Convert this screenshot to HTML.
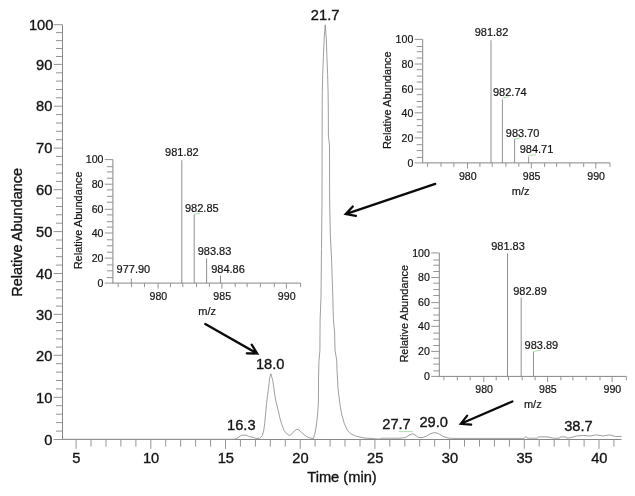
<!DOCTYPE html>
<html lang="en"><head><meta charset="utf-8"><title>Chromatogram</title>
<style>
html,body{margin:0;padding:0;background:#fff;}
body{width:635px;height:496px;overflow:hidden;}
svg{display:block;font-family:"Liberation Sans", sans-serif;fill:#141414;}
text{stroke:#141414;stroke-width:0.35px;}
text.s{stroke-width:0.2px;}
</style></head><body>
<svg width="635" height="496" viewBox="0 0 635 496">
<rect width="635" height="496" fill="#fff"/>
<line x1="62.5" y1="24.7" x2="62.5" y2="439.5" stroke="#868686" stroke-width="1"/>
<line x1="62.5" y1="439.5" x2="621.5" y2="439.5" stroke="#868686" stroke-width="1"/>
<line x1="53.6" y1="439.5" x2="62.5" y2="439.5" stroke="#949494" stroke-width="1"/>
<text x="52.4" y="444.7" font-size="14.67" text-anchor="end" >0</text>
<line x1="56.0" y1="431.1" x2="62.5" y2="431.1" stroke="#949494" stroke-width="1"/>
<line x1="56.0" y1="422.6" x2="62.5" y2="422.6" stroke="#949494" stroke-width="1"/>
<line x1="56.0" y1="414.2" x2="62.5" y2="414.2" stroke="#949494" stroke-width="1"/>
<line x1="56.0" y1="405.7" x2="62.5" y2="405.7" stroke="#949494" stroke-width="1"/>
<line x1="53.6" y1="397.3" x2="62.5" y2="397.3" stroke="#949494" stroke-width="1"/>
<text x="52.4" y="402.5" font-size="14.67" text-anchor="end" >10</text>
<line x1="56.0" y1="388.9" x2="62.5" y2="388.9" stroke="#949494" stroke-width="1"/>
<line x1="56.0" y1="380.5" x2="62.5" y2="380.5" stroke="#949494" stroke-width="1"/>
<line x1="56.0" y1="372.1" x2="62.5" y2="372.1" stroke="#949494" stroke-width="1"/>
<line x1="56.0" y1="363.7" x2="62.5" y2="363.7" stroke="#949494" stroke-width="1"/>
<line x1="53.6" y1="355.3" x2="62.5" y2="355.3" stroke="#949494" stroke-width="1"/>
<text x="52.4" y="360.5" font-size="14.67" text-anchor="end" >20</text>
<line x1="56.0" y1="347.1" x2="62.5" y2="347.1" stroke="#949494" stroke-width="1"/>
<line x1="56.0" y1="338.9" x2="62.5" y2="338.9" stroke="#949494" stroke-width="1"/>
<line x1="56.0" y1="330.7" x2="62.5" y2="330.7" stroke="#949494" stroke-width="1"/>
<line x1="56.0" y1="322.5" x2="62.5" y2="322.5" stroke="#949494" stroke-width="1"/>
<line x1="53.6" y1="314.3" x2="62.5" y2="314.3" stroke="#949494" stroke-width="1"/>
<text x="52.4" y="319.5" font-size="14.67" text-anchor="end" >30</text>
<line x1="56.0" y1="306.1" x2="62.5" y2="306.1" stroke="#949494" stroke-width="1"/>
<line x1="56.0" y1="298.0" x2="62.5" y2="298.0" stroke="#949494" stroke-width="1"/>
<line x1="56.0" y1="289.8" x2="62.5" y2="289.8" stroke="#949494" stroke-width="1"/>
<line x1="56.0" y1="281.7" x2="62.5" y2="281.7" stroke="#949494" stroke-width="1"/>
<line x1="53.6" y1="273.5" x2="62.5" y2="273.5" stroke="#949494" stroke-width="1"/>
<text x="52.4" y="278.7" font-size="14.67" text-anchor="end" >40</text>
<line x1="56.0" y1="265.1" x2="62.5" y2="265.1" stroke="#949494" stroke-width="1"/>
<line x1="56.0" y1="256.7" x2="62.5" y2="256.7" stroke="#949494" stroke-width="1"/>
<line x1="56.0" y1="248.4" x2="62.5" y2="248.4" stroke="#949494" stroke-width="1"/>
<line x1="56.0" y1="240.0" x2="62.5" y2="240.0" stroke="#949494" stroke-width="1"/>
<line x1="53.6" y1="231.6" x2="62.5" y2="231.6" stroke="#949494" stroke-width="1"/>
<text x="52.4" y="236.8" font-size="14.67" text-anchor="end" >50</text>
<line x1="56.0" y1="223.2" x2="62.5" y2="223.2" stroke="#949494" stroke-width="1"/>
<line x1="56.0" y1="214.8" x2="62.5" y2="214.8" stroke="#949494" stroke-width="1"/>
<line x1="56.0" y1="206.5" x2="62.5" y2="206.5" stroke="#949494" stroke-width="1"/>
<line x1="56.0" y1="198.1" x2="62.5" y2="198.1" stroke="#949494" stroke-width="1"/>
<line x1="53.6" y1="189.7" x2="62.5" y2="189.7" stroke="#949494" stroke-width="1"/>
<text x="52.4" y="194.9" font-size="14.67" text-anchor="end" >60</text>
<line x1="56.0" y1="181.4" x2="62.5" y2="181.4" stroke="#949494" stroke-width="1"/>
<line x1="56.0" y1="173.1" x2="62.5" y2="173.1" stroke="#949494" stroke-width="1"/>
<line x1="56.0" y1="164.7" x2="62.5" y2="164.7" stroke="#949494" stroke-width="1"/>
<line x1="56.0" y1="156.4" x2="62.5" y2="156.4" stroke="#949494" stroke-width="1"/>
<line x1="53.6" y1="148.1" x2="62.5" y2="148.1" stroke="#949494" stroke-width="1"/>
<text x="52.4" y="153.3" font-size="14.67" text-anchor="end" >70</text>
<line x1="56.0" y1="139.7" x2="62.5" y2="139.7" stroke="#949494" stroke-width="1"/>
<line x1="56.0" y1="131.3" x2="62.5" y2="131.3" stroke="#949494" stroke-width="1"/>
<line x1="56.0" y1="123.0" x2="62.5" y2="123.0" stroke="#949494" stroke-width="1"/>
<line x1="56.0" y1="114.6" x2="62.5" y2="114.6" stroke="#949494" stroke-width="1"/>
<line x1="53.6" y1="106.2" x2="62.5" y2="106.2" stroke="#949494" stroke-width="1"/>
<text x="52.4" y="111.4" font-size="14.67" text-anchor="end" >80</text>
<line x1="56.0" y1="97.8" x2="62.5" y2="97.8" stroke="#949494" stroke-width="1"/>
<line x1="56.0" y1="89.5" x2="62.5" y2="89.5" stroke="#949494" stroke-width="1"/>
<line x1="56.0" y1="81.1" x2="62.5" y2="81.1" stroke="#949494" stroke-width="1"/>
<line x1="56.0" y1="72.8" x2="62.5" y2="72.8" stroke="#949494" stroke-width="1"/>
<line x1="53.6" y1="64.4" x2="62.5" y2="64.4" stroke="#949494" stroke-width="1"/>
<text x="52.4" y="69.6" font-size="14.67" text-anchor="end" >90</text>
<line x1="56.0" y1="56.5" x2="62.5" y2="56.5" stroke="#949494" stroke-width="1"/>
<line x1="56.0" y1="48.5" x2="62.5" y2="48.5" stroke="#949494" stroke-width="1"/>
<line x1="56.0" y1="40.6" x2="62.5" y2="40.6" stroke="#949494" stroke-width="1"/>
<line x1="56.0" y1="32.6" x2="62.5" y2="32.6" stroke="#949494" stroke-width="1"/>
<line x1="53.6" y1="24.7" x2="62.5" y2="24.7" stroke="#949494" stroke-width="1"/>
<text x="53.4" y="29.9" font-size="14.67" text-anchor="end" >100</text>
<line x1="76.1" y1="439.5" x2="76.1" y2="448.8" stroke="#949494" stroke-width="1"/>
<text x="76.4" y="462.7" font-size="14.67" text-anchor="middle" >5</text>
<line x1="91.0" y1="439.5" x2="91.0" y2="446.6" stroke="#949494" stroke-width="1"/>
<line x1="106.0" y1="439.5" x2="106.0" y2="446.6" stroke="#949494" stroke-width="1"/>
<line x1="120.9" y1="439.5" x2="120.9" y2="446.6" stroke="#949494" stroke-width="1"/>
<line x1="135.9" y1="439.5" x2="135.9" y2="446.6" stroke="#949494" stroke-width="1"/>
<line x1="150.8" y1="439.5" x2="150.8" y2="448.8" stroke="#949494" stroke-width="1"/>
<text x="151.1" y="462.7" font-size="14.67" text-anchor="middle" >10</text>
<line x1="165.7" y1="439.5" x2="165.7" y2="446.6" stroke="#949494" stroke-width="1"/>
<line x1="180.7" y1="439.5" x2="180.7" y2="446.6" stroke="#949494" stroke-width="1"/>
<line x1="195.6" y1="439.5" x2="195.6" y2="446.6" stroke="#949494" stroke-width="1"/>
<line x1="210.6" y1="439.5" x2="210.6" y2="446.6" stroke="#949494" stroke-width="1"/>
<line x1="225.5" y1="439.5" x2="225.5" y2="448.8" stroke="#949494" stroke-width="1"/>
<text x="225.8" y="462.7" font-size="14.67" text-anchor="middle" >15</text>
<line x1="240.4" y1="439.5" x2="240.4" y2="446.6" stroke="#949494" stroke-width="1"/>
<line x1="255.4" y1="439.5" x2="255.4" y2="446.6" stroke="#949494" stroke-width="1"/>
<line x1="270.3" y1="439.5" x2="270.3" y2="446.6" stroke="#949494" stroke-width="1"/>
<line x1="285.3" y1="439.5" x2="285.3" y2="446.6" stroke="#949494" stroke-width="1"/>
<line x1="300.2" y1="439.5" x2="300.2" y2="448.8" stroke="#949494" stroke-width="1"/>
<text x="300.5" y="462.7" font-size="14.67" text-anchor="middle" >20</text>
<line x1="315.1" y1="439.5" x2="315.1" y2="446.6" stroke="#949494" stroke-width="1"/>
<line x1="330.1" y1="439.5" x2="330.1" y2="446.6" stroke="#949494" stroke-width="1"/>
<line x1="345.0" y1="439.5" x2="345.0" y2="446.6" stroke="#949494" stroke-width="1"/>
<line x1="360.0" y1="439.5" x2="360.0" y2="446.6" stroke="#949494" stroke-width="1"/>
<line x1="374.9" y1="439.5" x2="374.9" y2="448.8" stroke="#949494" stroke-width="1"/>
<text x="375.2" y="462.7" font-size="14.67" text-anchor="middle" >25</text>
<line x1="389.8" y1="439.5" x2="389.8" y2="446.6" stroke="#949494" stroke-width="1"/>
<line x1="404.8" y1="439.5" x2="404.8" y2="446.6" stroke="#949494" stroke-width="1"/>
<line x1="419.7" y1="439.5" x2="419.7" y2="446.6" stroke="#949494" stroke-width="1"/>
<line x1="434.7" y1="439.5" x2="434.7" y2="446.6" stroke="#949494" stroke-width="1"/>
<line x1="449.6" y1="439.5" x2="449.6" y2="448.8" stroke="#949494" stroke-width="1"/>
<text x="449.9" y="462.7" font-size="14.67" text-anchor="middle" >30</text>
<line x1="464.5" y1="439.5" x2="464.5" y2="446.6" stroke="#949494" stroke-width="1"/>
<line x1="479.5" y1="439.5" x2="479.5" y2="446.6" stroke="#949494" stroke-width="1"/>
<line x1="494.4" y1="439.5" x2="494.4" y2="446.6" stroke="#949494" stroke-width="1"/>
<line x1="509.4" y1="439.5" x2="509.4" y2="446.6" stroke="#949494" stroke-width="1"/>
<line x1="524.3" y1="439.5" x2="524.3" y2="448.8" stroke="#949494" stroke-width="1"/>
<text x="524.6" y="462.7" font-size="14.67" text-anchor="middle" >35</text>
<line x1="539.2" y1="439.5" x2="539.2" y2="446.6" stroke="#949494" stroke-width="1"/>
<line x1="554.2" y1="439.5" x2="554.2" y2="446.6" stroke="#949494" stroke-width="1"/>
<line x1="569.1" y1="439.5" x2="569.1" y2="446.6" stroke="#949494" stroke-width="1"/>
<line x1="584.1" y1="439.5" x2="584.1" y2="446.6" stroke="#949494" stroke-width="1"/>
<line x1="599.0" y1="439.5" x2="599.0" y2="448.8" stroke="#949494" stroke-width="1"/>
<text x="599.3" y="462.7" font-size="14.67" text-anchor="middle" >40</text>
<line x1="613.9" y1="439.5" x2="613.9" y2="446.6" stroke="#949494" stroke-width="1"/>
<text x="342.0" y="482.0" font-size="14.67" text-anchor="middle" >Time (min)</text>
<text transform="translate(22.4 232.3) rotate(-90)" font-size="14.5" text-anchor="middle">Relative Abundance</text>
<path d="M62.6,439.3 L232.0,439.3 L235.4,439.0 L238.0,437.6 L241.6,435.2 L246.3,435.2 L249.5,436.6 L252.9,437.3 L255.7,438.4 L259.5,438.4 L262.3,435.6 L263.7,430.9 L264.7,423.4 L265.6,413.9 L266.5,404.5 L267.4,396.5 L268.4,388.8 L269.0,383.7 L269.7,377.4 L270.9,373.8 L271.5,376.2 L272.8,380.6 L273.4,385.0 L274.1,389.4 L274.7,394.5 L276.0,401.6 L277.9,409.2 L279.8,417.7 L281.7,424.3 L284.0,430.4 L286.9,433.8 L289.2,435.5 L291.6,434.2 L294.4,430.9 L296.8,429.2 L299.1,430.0 L302.9,433.8 L306.7,436.6 L309.8,437.9 L313.3,438.8 L314.7,434.4 L315.9,428.4 L316.9,421.1 L317.7,412.7 L318.3,404.2 L318.5,392.1 L318.5,380.0 L318.9,362.3 L319.9,350.2 L320.1,320.0 L321.0,296.8 L321.5,248.4 L322.0,200.0 L322.2,110.0 L322.3,92.6 L322.7,74.4 L323.4,56.3 L324.2,38.1 L325.2,24.8 L326.3,38.1 L326.9,56.3 L327.6,74.4 L328.1,92.6 L328.3,110.0 L328.4,135.0 L329.5,146.0 L329.6,200.0 L330.4,236.3 L331.6,260.5 L332.8,296.8 L333.4,320.0 L334.6,332.1 L335.0,350.2 L336.7,359.9 L337.1,372.0 L337.6,380.0 L337.9,387.3 L338.9,395.7 L340.1,405.4 L341.9,415.1 L344.3,423.5 L347.3,430.2 L351.0,433.8 L355.8,436.2 L361.9,437.5 L365.0,438.1 L373.1,438.5 L377.0,439.0 L380.0,439.0 L381.6,438.2 L400.0,438.2 L405.2,437.6 L409.0,435.2 L412.9,433.7 L416.0,435.6 L418.4,437.5 L422.0,437.6 L426.1,436.4 L430.0,434.0 L433.9,432.6 L437.0,433.0 L439.4,434.2 L443.0,436.4 L448.2,438.1 L455.0,438.4 L522.0,438.4 L524.5,438.2 L525.9,436.5 L527.3,438.2 L537.5,438.2 L538.3,436.9 L547.9,436.9 L553.4,438.2 L559.5,438.2 L560.2,436.9 L566.0,436.9 L566.8,438.2 L570.0,437.8 L576.6,436.0 L583.2,435.4 L589.8,436.0 L596.4,434.9 L603.0,436.0 L609.6,434.9 L615.2,436.4 L621.8,436.4" fill="none" stroke="#939393" stroke-width="0.9" stroke-linejoin="round"/>
<text x="325.1" y="20.2" font-size="14.67" text-anchor="middle" >21.7</text>
<text x="270.2" y="369.4" font-size="14.67" text-anchor="middle" >18.0</text>
<text x="241.3" y="430.4" font-size="14.67" text-anchor="middle" >16.3</text>
<text x="396.5" y="429.0" font-size="14.67" text-anchor="middle" >27.7</text>
<text x="433.7" y="427.4" font-size="14.67" text-anchor="middle" >29.0</text>
<text x="578.4" y="430.5" font-size="14.67" text-anchor="middle" >38.7</text>
<line x1="398.6" y1="431.6" x2="412.9" y2="431.6" stroke="#96d096" stroke-width="0.75"/>
<line x1="112.9" y1="159.6" x2="112.9" y2="283.1" stroke="#868686" stroke-width="1"/>
<line x1="112.4" y1="283.1" x2="300.6" y2="283.1" stroke="#868686" stroke-width="1"/>
<line x1="104.8" y1="283.1" x2="112.9" y2="283.1" stroke="#949494" stroke-width="1"/>
<text x="103.5" y="286.9" font-size="10.6" text-anchor="end"  class="s">0</text>
<line x1="106.9" y1="277.6" x2="112.9" y2="277.6" stroke="#949494" stroke-width="1"/>
<line x1="106.9" y1="270.8" x2="112.9" y2="270.8" stroke="#949494" stroke-width="1"/>
<line x1="106.9" y1="264.9" x2="112.9" y2="264.9" stroke="#949494" stroke-width="1"/>
<line x1="104.8" y1="258.1" x2="112.9" y2="258.1" stroke="#949494" stroke-width="1"/>
<text x="103.5" y="261.9" font-size="10.6" text-anchor="end"  class="s">20</text>
<line x1="106.9" y1="252.2" x2="112.9" y2="252.2" stroke="#949494" stroke-width="1"/>
<line x1="106.9" y1="245.8" x2="112.9" y2="245.8" stroke="#949494" stroke-width="1"/>
<line x1="106.9" y1="239.8" x2="112.9" y2="239.8" stroke="#949494" stroke-width="1"/>
<line x1="104.8" y1="233.0" x2="112.9" y2="233.0" stroke="#949494" stroke-width="1"/>
<text x="103.5" y="236.8" font-size="10.6" text-anchor="end"  class="s">40</text>
<line x1="106.9" y1="227.1" x2="112.9" y2="227.1" stroke="#949494" stroke-width="1"/>
<line x1="106.9" y1="221.7" x2="112.9" y2="221.7" stroke="#949494" stroke-width="1"/>
<line x1="106.9" y1="214.9" x2="112.9" y2="214.9" stroke="#949494" stroke-width="1"/>
<line x1="104.8" y1="209.3" x2="112.9" y2="209.3" stroke="#949494" stroke-width="1"/>
<text x="103.5" y="213.1" font-size="10.6" text-anchor="end"  class="s">60</text>
<line x1="106.9" y1="202.2" x2="112.9" y2="202.2" stroke="#949494" stroke-width="1"/>
<line x1="106.9" y1="196.3" x2="112.9" y2="196.3" stroke="#949494" stroke-width="1"/>
<line x1="106.9" y1="189.9" x2="112.9" y2="189.9" stroke="#949494" stroke-width="1"/>
<line x1="104.8" y1="184.2" x2="112.9" y2="184.2" stroke="#949494" stroke-width="1"/>
<text x="103.5" y="188.0" font-size="10.6" text-anchor="end"  class="s">80</text>
<line x1="106.9" y1="178.2" x2="112.9" y2="178.2" stroke="#949494" stroke-width="1"/>
<line x1="106.9" y1="171.9" x2="112.9" y2="171.9" stroke="#949494" stroke-width="1"/>
<line x1="106.9" y1="166.7" x2="112.9" y2="166.7" stroke="#949494" stroke-width="1"/>
<line x1="104.8" y1="159.6" x2="112.9" y2="159.6" stroke="#949494" stroke-width="1"/>
<text x="103.5" y="163.4" font-size="10.6" text-anchor="end"  class="s">100</text>
<line x1="118.2" y1="283.1" x2="118.2" y2="287.1" stroke="#949494" stroke-width="1"/>
<line x1="131.6" y1="283.1" x2="131.6" y2="287.1" stroke="#949494" stroke-width="1"/>
<line x1="144.5" y1="283.1" x2="144.5" y2="287.1" stroke="#949494" stroke-width="1"/>
<line x1="158.1" y1="283.1" x2="158.1" y2="288.7" stroke="#949494" stroke-width="1"/>
<text x="158.4" y="299.9" font-size="10.6" text-anchor="middle"  class="s">980</text>
<line x1="170.5" y1="283.1" x2="170.5" y2="287.1" stroke="#949494" stroke-width="1"/>
<line x1="182.8" y1="283.1" x2="182.8" y2="287.1" stroke="#949494" stroke-width="1"/>
<line x1="196.5" y1="283.1" x2="196.5" y2="287.1" stroke="#949494" stroke-width="1"/>
<line x1="209.4" y1="283.1" x2="209.4" y2="287.1" stroke="#949494" stroke-width="1"/>
<line x1="221.9" y1="283.1" x2="221.9" y2="288.7" stroke="#949494" stroke-width="1"/>
<text x="222.2" y="299.9" font-size="10.6" text-anchor="middle"  class="s">985</text>
<line x1="235.2" y1="283.1" x2="235.2" y2="287.1" stroke="#949494" stroke-width="1"/>
<line x1="247.2" y1="283.1" x2="247.2" y2="287.1" stroke="#949494" stroke-width="1"/>
<line x1="260.4" y1="283.1" x2="260.4" y2="287.1" stroke="#949494" stroke-width="1"/>
<line x1="274.3" y1="283.1" x2="274.3" y2="287.1" stroke="#949494" stroke-width="1"/>
<line x1="286.4" y1="283.1" x2="286.4" y2="288.7" stroke="#949494" stroke-width="1"/>
<text x="286.7" y="299.9" font-size="10.6" text-anchor="middle"  class="s">990</text>
<line x1="300.6" y1="283.1" x2="300.6" y2="287.1" stroke="#949494" stroke-width="1"/>
<text x="207.1" y="315.1" font-size="11" text-anchor="middle"  class="s">m/z</text>
<text transform="translate(81.9 220.4) rotate(-90)" font-size="11" class="s" text-anchor="middle">Relative Abundance</text>
<line x1="181.8" y1="160.2" x2="181.8" y2="283.1" stroke="#7c7c7c" stroke-width="0.85"/>
<line x1="194.2" y1="214.3" x2="194.2" y2="283.1" stroke="#7c7c7c" stroke-width="0.85"/>
<line x1="206.6" y1="258.3" x2="206.6" y2="283.1" stroke="#7c7c7c" stroke-width="0.85"/>
<line x1="220.5" y1="275.5" x2="220.5" y2="283.1" stroke="#7c7c7c" stroke-width="0.85"/>
<line x1="131.3" y1="278.5" x2="131.3" y2="283.1" stroke="#7c7c7c" stroke-width="0.85"/>
<text x="181.9" y="156.4" font-size="11" text-anchor="middle"  class="s">981.82</text>
<text x="201.8" y="212.3" font-size="11" text-anchor="middle"  class="s">982.85</text>
<text x="214.5" y="254.8" font-size="11" text-anchor="middle"  class="s">983.83</text>
<text x="228.0" y="272.9" font-size="11" text-anchor="middle"  class="s">984.86</text>
<text x="133.4" y="272.9" font-size="11" text-anchor="middle"  class="s">977.90</text>
<line x1="194.2" y1="214.3" x2="200.0" y2="213.4" stroke="#96d096" stroke-width="0.75"/>
<line x1="422.7" y1="39.4" x2="422.7" y2="162.9" stroke="#868686" stroke-width="1"/>
<line x1="422.2" y1="162.9" x2="610.0" y2="162.9" stroke="#868686" stroke-width="1"/>
<line x1="414.6" y1="162.9" x2="422.7" y2="162.9" stroke="#949494" stroke-width="1"/>
<text x="413.3" y="166.7" font-size="10.6" text-anchor="end"  class="s">0</text>
<line x1="416.7" y1="157.4" x2="422.7" y2="157.4" stroke="#949494" stroke-width="1"/>
<line x1="416.7" y1="150.6" x2="422.7" y2="150.6" stroke="#949494" stroke-width="1"/>
<line x1="416.7" y1="144.7" x2="422.7" y2="144.7" stroke="#949494" stroke-width="1"/>
<line x1="414.6" y1="137.9" x2="422.7" y2="137.9" stroke="#949494" stroke-width="1"/>
<text x="413.3" y="141.7" font-size="10.6" text-anchor="end"  class="s">20</text>
<line x1="416.7" y1="132.0" x2="422.7" y2="132.0" stroke="#949494" stroke-width="1"/>
<line x1="416.7" y1="125.6" x2="422.7" y2="125.6" stroke="#949494" stroke-width="1"/>
<line x1="416.7" y1="119.6" x2="422.7" y2="119.6" stroke="#949494" stroke-width="1"/>
<line x1="414.6" y1="112.8" x2="422.7" y2="112.8" stroke="#949494" stroke-width="1"/>
<text x="413.3" y="116.6" font-size="10.6" text-anchor="end"  class="s">40</text>
<line x1="416.7" y1="106.9" x2="422.7" y2="106.9" stroke="#949494" stroke-width="1"/>
<line x1="416.7" y1="101.5" x2="422.7" y2="101.5" stroke="#949494" stroke-width="1"/>
<line x1="416.7" y1="94.7" x2="422.7" y2="94.7" stroke="#949494" stroke-width="1"/>
<line x1="414.6" y1="89.1" x2="422.7" y2="89.1" stroke="#949494" stroke-width="1"/>
<text x="413.3" y="92.9" font-size="10.6" text-anchor="end"  class="s">60</text>
<line x1="416.7" y1="82.0" x2="422.7" y2="82.0" stroke="#949494" stroke-width="1"/>
<line x1="416.7" y1="76.1" x2="422.7" y2="76.1" stroke="#949494" stroke-width="1"/>
<line x1="416.7" y1="69.7" x2="422.7" y2="69.7" stroke="#949494" stroke-width="1"/>
<line x1="414.6" y1="64.0" x2="422.7" y2="64.0" stroke="#949494" stroke-width="1"/>
<text x="413.3" y="67.8" font-size="10.6" text-anchor="end"  class="s">80</text>
<line x1="416.7" y1="58.0" x2="422.7" y2="58.0" stroke="#949494" stroke-width="1"/>
<line x1="416.7" y1="51.7" x2="422.7" y2="51.7" stroke="#949494" stroke-width="1"/>
<line x1="416.7" y1="46.5" x2="422.7" y2="46.5" stroke="#949494" stroke-width="1"/>
<line x1="414.6" y1="39.4" x2="422.7" y2="39.4" stroke="#949494" stroke-width="1"/>
<text x="413.3" y="43.2" font-size="10.6" text-anchor="end"  class="s">100</text>
<line x1="427.6" y1="162.9" x2="427.6" y2="166.9" stroke="#949494" stroke-width="1"/>
<line x1="441.0" y1="162.9" x2="441.0" y2="166.9" stroke="#949494" stroke-width="1"/>
<line x1="453.9" y1="162.9" x2="453.9" y2="166.9" stroke="#949494" stroke-width="1"/>
<line x1="467.5" y1="162.9" x2="467.5" y2="168.5" stroke="#949494" stroke-width="1"/>
<text x="467.8" y="179.7" font-size="10.6" text-anchor="middle"  class="s">980</text>
<line x1="479.9" y1="162.9" x2="479.9" y2="166.9" stroke="#949494" stroke-width="1"/>
<line x1="492.2" y1="162.9" x2="492.2" y2="166.9" stroke="#949494" stroke-width="1"/>
<line x1="505.9" y1="162.9" x2="505.9" y2="166.9" stroke="#949494" stroke-width="1"/>
<line x1="518.8" y1="162.9" x2="518.8" y2="166.9" stroke="#949494" stroke-width="1"/>
<line x1="531.3" y1="162.9" x2="531.3" y2="168.5" stroke="#949494" stroke-width="1"/>
<text x="531.6" y="179.7" font-size="10.6" text-anchor="middle"  class="s">985</text>
<line x1="544.6" y1="162.9" x2="544.6" y2="166.9" stroke="#949494" stroke-width="1"/>
<line x1="556.6" y1="162.9" x2="556.6" y2="166.9" stroke="#949494" stroke-width="1"/>
<line x1="569.8" y1="162.9" x2="569.8" y2="166.9" stroke="#949494" stroke-width="1"/>
<line x1="583.7" y1="162.9" x2="583.7" y2="166.9" stroke="#949494" stroke-width="1"/>
<line x1="595.8" y1="162.9" x2="595.8" y2="168.5" stroke="#949494" stroke-width="1"/>
<text x="596.1" y="179.7" font-size="10.6" text-anchor="middle"  class="s">990</text>
<line x1="610.0" y1="162.9" x2="610.0" y2="166.9" stroke="#949494" stroke-width="1"/>
<text x="520.6" y="194.9" font-size="11" text-anchor="middle"  class="s">m/z</text>
<text transform="translate(391.3 100.2) rotate(-90)" font-size="11" class="s" text-anchor="middle">Relative Abundance</text>
<line x1="491.0" y1="40.2" x2="491.0" y2="162.9" stroke="#7c7c7c" stroke-width="0.85"/>
<line x1="502.4" y1="99.4" x2="502.4" y2="162.9" stroke="#7c7c7c" stroke-width="0.85"/>
<line x1="514.6" y1="139.1" x2="514.6" y2="162.9" stroke="#7c7c7c" stroke-width="0.85"/>
<line x1="528.7" y1="156.7" x2="528.7" y2="162.9" stroke="#7c7c7c" stroke-width="0.85"/>
<text x="491.5" y="36.4" font-size="11" text-anchor="middle"  class="s">981.82</text>
<text x="509.8" y="96.1" font-size="11" text-anchor="middle"  class="s">982.74</text>
<text x="522.6" y="136.6" font-size="11" text-anchor="middle"  class="s">983.70</text>
<text x="536.5" y="153.4" font-size="11" text-anchor="middle"  class="s">984.71</text>
<line x1="514.6" y1="139.1" x2="521.6" y2="137.8" stroke="#96d096" stroke-width="0.75"/>
<line x1="528.7" y1="155.5" x2="536.0" y2="154.7" stroke="#96d096" stroke-width="0.75"/>
<line x1="502.4" y1="98.0" x2="509.0" y2="96.6" stroke="#96d096" stroke-width="0.75"/>
<line x1="439.3" y1="252.9" x2="439.3" y2="376.4" stroke="#868686" stroke-width="1"/>
<line x1="438.8" y1="376.4" x2="626.3" y2="376.4" stroke="#868686" stroke-width="1"/>
<line x1="431.2" y1="376.4" x2="439.3" y2="376.4" stroke="#949494" stroke-width="1"/>
<text x="429.9" y="380.2" font-size="10.6" text-anchor="end"  class="s">0</text>
<line x1="433.3" y1="370.9" x2="439.3" y2="370.9" stroke="#949494" stroke-width="1"/>
<line x1="433.3" y1="364.1" x2="439.3" y2="364.1" stroke="#949494" stroke-width="1"/>
<line x1="433.3" y1="358.2" x2="439.3" y2="358.2" stroke="#949494" stroke-width="1"/>
<line x1="431.2" y1="351.4" x2="439.3" y2="351.4" stroke="#949494" stroke-width="1"/>
<text x="429.9" y="355.2" font-size="10.6" text-anchor="end"  class="s">20</text>
<line x1="433.3" y1="345.5" x2="439.3" y2="345.5" stroke="#949494" stroke-width="1"/>
<line x1="433.3" y1="339.1" x2="439.3" y2="339.1" stroke="#949494" stroke-width="1"/>
<line x1="433.3" y1="333.1" x2="439.3" y2="333.1" stroke="#949494" stroke-width="1"/>
<line x1="431.2" y1="326.3" x2="439.3" y2="326.3" stroke="#949494" stroke-width="1"/>
<text x="429.9" y="330.1" font-size="10.6" text-anchor="end"  class="s">40</text>
<line x1="433.3" y1="320.4" x2="439.3" y2="320.4" stroke="#949494" stroke-width="1"/>
<line x1="433.3" y1="315.0" x2="439.3" y2="315.0" stroke="#949494" stroke-width="1"/>
<line x1="433.3" y1="308.2" x2="439.3" y2="308.2" stroke="#949494" stroke-width="1"/>
<line x1="431.2" y1="302.6" x2="439.3" y2="302.6" stroke="#949494" stroke-width="1"/>
<text x="429.9" y="306.4" font-size="10.6" text-anchor="end"  class="s">60</text>
<line x1="433.3" y1="295.5" x2="439.3" y2="295.5" stroke="#949494" stroke-width="1"/>
<line x1="433.3" y1="289.6" x2="439.3" y2="289.6" stroke="#949494" stroke-width="1"/>
<line x1="433.3" y1="283.2" x2="439.3" y2="283.2" stroke="#949494" stroke-width="1"/>
<line x1="431.2" y1="277.5" x2="439.3" y2="277.5" stroke="#949494" stroke-width="1"/>
<text x="429.9" y="281.3" font-size="10.6" text-anchor="end"  class="s">80</text>
<line x1="433.3" y1="271.5" x2="439.3" y2="271.5" stroke="#949494" stroke-width="1"/>
<line x1="433.3" y1="265.2" x2="439.3" y2="265.2" stroke="#949494" stroke-width="1"/>
<line x1="433.3" y1="260.0" x2="439.3" y2="260.0" stroke="#949494" stroke-width="1"/>
<line x1="431.2" y1="252.9" x2="439.3" y2="252.9" stroke="#949494" stroke-width="1"/>
<text x="429.9" y="256.7" font-size="10.6" text-anchor="end"  class="s">100</text>
<line x1="443.9" y1="376.4" x2="443.9" y2="380.4" stroke="#949494" stroke-width="1"/>
<line x1="457.3" y1="376.4" x2="457.3" y2="380.4" stroke="#949494" stroke-width="1"/>
<line x1="470.2" y1="376.4" x2="470.2" y2="380.4" stroke="#949494" stroke-width="1"/>
<line x1="483.8" y1="376.4" x2="483.8" y2="382.0" stroke="#949494" stroke-width="1"/>
<text x="484.1" y="393.2" font-size="10.6" text-anchor="middle"  class="s">980</text>
<line x1="496.2" y1="376.4" x2="496.2" y2="380.4" stroke="#949494" stroke-width="1"/>
<line x1="508.5" y1="376.4" x2="508.5" y2="380.4" stroke="#949494" stroke-width="1"/>
<line x1="522.2" y1="376.4" x2="522.2" y2="380.4" stroke="#949494" stroke-width="1"/>
<line x1="535.1" y1="376.4" x2="535.1" y2="380.4" stroke="#949494" stroke-width="1"/>
<line x1="547.6" y1="376.4" x2="547.6" y2="382.0" stroke="#949494" stroke-width="1"/>
<text x="547.9" y="393.2" font-size="10.6" text-anchor="middle"  class="s">985</text>
<line x1="560.9" y1="376.4" x2="560.9" y2="380.4" stroke="#949494" stroke-width="1"/>
<line x1="572.9" y1="376.4" x2="572.9" y2="380.4" stroke="#949494" stroke-width="1"/>
<line x1="586.1" y1="376.4" x2="586.1" y2="380.4" stroke="#949494" stroke-width="1"/>
<line x1="600.0" y1="376.4" x2="600.0" y2="380.4" stroke="#949494" stroke-width="1"/>
<line x1="612.1" y1="376.4" x2="612.1" y2="382.0" stroke="#949494" stroke-width="1"/>
<text x="612.4" y="393.2" font-size="10.6" text-anchor="middle"  class="s">990</text>
<line x1="626.3" y1="376.4" x2="626.3" y2="380.4" stroke="#949494" stroke-width="1"/>
<text x="532.8" y="408.4" font-size="11" text-anchor="middle"  class="s">m/z</text>
<text transform="translate(408.4 313.7) rotate(-90)" font-size="11" class="s" text-anchor="middle">Relative Abundance</text>
<line x1="507.5" y1="253.4" x2="507.5" y2="376.4" stroke="#7c7c7c" stroke-width="0.85"/>
<line x1="521.2" y1="297.5" x2="521.2" y2="376.4" stroke="#7c7c7c" stroke-width="0.85"/>
<line x1="533.5" y1="351.6" x2="533.5" y2="376.4" stroke="#7c7c7c" stroke-width="0.85"/>
<text x="508.0" y="250.2" font-size="11" text-anchor="middle"  class="s">981.83</text>
<text x="530.0" y="295.0" font-size="11" text-anchor="middle"  class="s">982.89</text>
<text x="541.4" y="348.5" font-size="11" text-anchor="middle"  class="s">983.89</text>
<line x1="533.5" y1="351.6" x2="541.0" y2="350.0" stroke="#96d096" stroke-width="0.75"/>
<path d="M205.3,324.0 L257.2,353.5 M246.8,353.3 L257.2,353.5 L251.7,344.7" fill="none" stroke="#0a0a0a" stroke-width="2.3" stroke-linecap="round" stroke-linejoin="miter"/>
<path d="M435.2,183.9 L345.7,214.1 M352.8,206.5 L345.7,214.1 L355.9,215.9" fill="none" stroke="#0a0a0a" stroke-width="2.3" stroke-linecap="round" stroke-linejoin="miter"/>
<path d="M512.4,401.5 L460.8,423.8 M467.2,415.6 L460.8,423.8 L471.2,424.7" fill="none" stroke="#0a0a0a" stroke-width="2.2" stroke-linecap="round" stroke-linejoin="miter"/>
</svg>
</body></html>
